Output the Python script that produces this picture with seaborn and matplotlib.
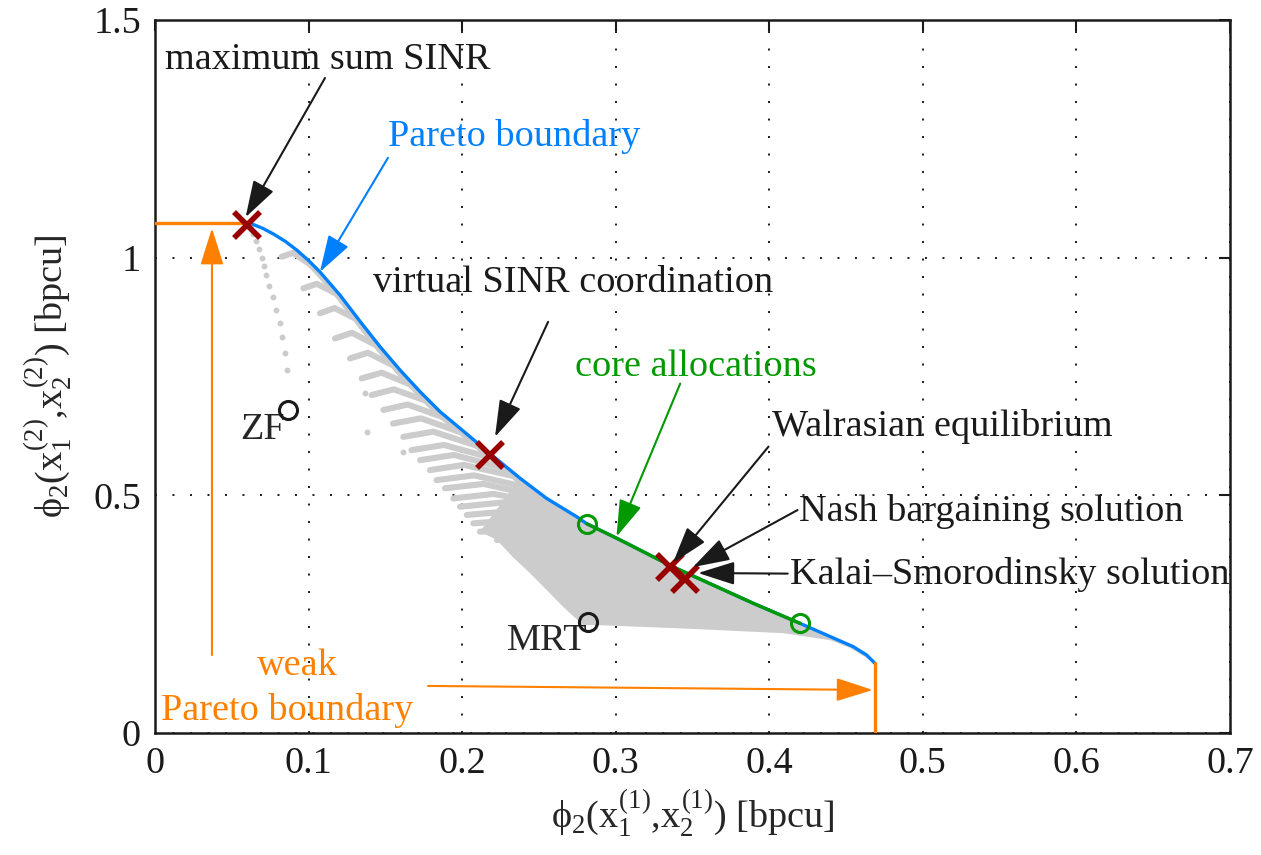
import numpy as np
import pandas as pd
import matplotlib
matplotlib.use('Agg')
import matplotlib.pyplot as plt
import seaborn as sns

# Pareto boundary
pareto_x = [0.0619, 0.070, 0.077, 0.085, 0.0923, 0.100, 0.1074, 0.1205, 0.1335, 0.1465,
            0.1595, 0.1726, 0.1856, 0.1986, 0.2192, 0.2377, 0.2551, 0.2746, 0.281, 0.303,
            0.337, 0.3896, 0.420, 0.4374, 0.4547, 0.4634, 0.4688]
pareto_y = [1.0724, 1.062, 1.050, 1.034, 1.016, 0.994, 0.970, 0.921, 0.866, 0.8128,
            0.7637, 0.718, 0.676, 0.641, 0.585, 0.536, 0.4934, 0.455, 0.4406, 0.406,
            0.350, 0.2728, 0.2307, 0.206, 0.1816, 0.164, 0.1466]
core_lo, core_hi = 0.281, 0.420

# achievable points: fan of curves (left end, height of its hump, where it meets the boundary)
fan_left_x = [0.0825, 0.0966, 0.1074, 0.1172, 0.1270, 0.1346, 0.1411, 0.1487, 0.155, 0.1617,
              0.167, 0.1726, 0.179, 0.1834, 0.1888, 0.1943, 0.1986, 0.203, 0.2073, 0.2116, 0.2227]
fan_left_y = [1.002, 0.9355, 0.883, 0.830, 0.788, 0.746, 0.711, 0.6796, 0.651, 0.623,
              0.595, 0.574, 0.553, 0.532, 0.5148, 0.4934, 0.476, 0.4587, 0.441, 0.4235, 0.406]
fan_top_y = [1.010, 0.945, 0.894, 0.842, 0.800, 0.758, 0.723, 0.691, 0.662, 0.634,
             0.606, 0.585, 0.564, 0.542, 0.524, 0.503, 0.485, 0.467, 0.449, 0.431, 0.413]
fan_join_x = [0.101, 0.1185, 0.1312, 0.1449, 0.156, 0.1672, 0.1772, 0.1886, 0.2004, 0.2107,
              0.2199, 0.2279, 0.2343, 0.2442, 0.2516, 0.2596, 0.268, 0.2773, 0.2877, 0.2992, 0.3103]

# lower edge of the dense part
dense_low_x = [0.2116, 0.2227, 0.233, 0.244, 0.255, 0.266, 0.275, 0.2787, 0.288, 0.350,
               0.409, 0.440, 0.4526, 0.4655, 0.4688]
dense_low_y = [0.4235, 0.406, 0.370, 0.337, 0.301, 0.265, 0.238, 0.227, 0.227, 0.219,
               0.210, 0.195, 0.179, 0.154, 0.1466]

# sparse dotted curve below the maximum sum SINR point + loose dots
zf_dots_x = [0.062, 0.064, 0.066, 0.068, 0.0695, 0.071, 0.0725, 0.0745, 0.077, 0.079, 0.0814,
             0.0825, 0.0846, 0.0860, 0.1367, 0.138, 0.1615]
zf_dots_y = [1.065, 1.050, 1.035, 1.018, 1.000, 0.982, 0.963, 0.940, 0.917, 0.890, 0.862,
             0.834, 0.799, 0.763, 0.715, 0.633, 0.591]

cross_x = [0.060, 0.2181, 0.3353, 0.3451]
cross_y = [1.068, 0.585, 0.350, 0.325]
core_pts_x = [0.281, 0.420]
core_pts_y = [0.4406, 0.2307]
ref_x = [0.0868, 0.2821]
ref_y = [0.6796, 0.234]

blue = '#0080ff'
green = '#009900'
orange = '#ff8000'
dred = '#990000'
gray = '#cccccc'

sns.set_theme(style='white')
plt.rcParams['font.family'] = ['Liberation Serif', 'DejaVu Serif']
plt.rcParams['mathtext.fontset'] = 'custom'
plt.rcParams['mathtext.rm'] = 'Liberation Serif'
plt.rcParams['mathtext.it'] = 'Liberation Serif'
fs = 27.5

fig = plt.figure(figsize=(12.61, 8.55), dpi=100)
ax = fig.add_axes([0.1229, 0.1427, 0.8525, 0.8339])

px = np.array(pareto_x)
py = np.array(pareto_y)

# gray achievable region
sel = px >= 0.2377
poly_x = list(dense_low_x) + list(px[sel][::-1])
poly_y = list(dense_low_y) + list(py[sel][::-1])
ax.fill(poly_x, poly_y, color=gray, lw=0, zorder=1)
for xl, yl, yt, xj in zip(fan_left_x, fan_left_y, fan_top_y, fan_join_x):
    yj = np.interp(xj, px, py) - 0.005
    xm = xl + 0.4 * (xj - xl)
    m = (px > xj) & (px <= xj + 0.05)
    cx = [xl, xm, xj] + list(px[m])
    cy = [yl, yt, yj] + list(py[m] - 0.006)
    ax.plot(cx, cy, color=gray, lw=4.4, solid_capstyle='round',
            solid_joinstyle='round', zorder=1)
ax.scatter(zf_dots_x, zf_dots_y, s=18, color=gray, lw=0, zorder=1)

# boundaries
df = pd.DataFrame({'x': px, 'y': py})
sns.lineplot(data=df, x='x', y='y', sort=False, color=blue, lw=2.4, ax=ax, zorder=3)
core = df[(df.x >= core_lo) & (df.x <= core_hi)]
sns.lineplot(data=core, x='x', y='y', sort=False, color=green, lw=2.4, ax=ax, zorder=4)
ax.plot([0, pareto_x[0]], [pareto_y[0], pareto_y[0]], color=orange, lw=2.4, zorder=3)
ax.plot([pareto_x[-1], pareto_x[-1]], [pareto_y[-1], 0], color=orange, lw=2.4, zorder=3)

# markers
ax.plot(core_pts_x, core_pts_y, 'o', mfc='none', mec=green, ms=13, mew=2.2, zorder=5)
ax.plot(ref_x, ref_y, 'o', mfc='none', mec='k', ms=13, mew=2.2, zorder=5)
ax.plot(cross_x, cross_y, 'x', color=dred, ms=19, mew=4, zorder=6)

ap = dict(arrowstyle='-|>,head_length=1.9,head_width=0.6', lw=1.5, shrinkA=0, shrinkB=0)

def note(txt, xy, xytext, color='k', ha='left', va='center', tpos=None):
    ax.annotate('', xy=xy, xytext=xytext, arrowprops=dict(ap, color=color), zorder=7)
    if txt:
        ax.text(tpos[0], tpos[1], txt, color=color, fontsize=fs, ha=ha, va=va, zorder=8)

note('maximum sum SINR', (0.059, 1.085), (0.1107, 1.378), tpos=(0.0065, 1.416))
note('Pareto boundary', (0.1074, 0.970), (0.1517, 1.21), color=blue, tpos=(0.152, 1.254))
note('virtual SINR coordination', (0.2214, 0.623), (0.256, 0.865), tpos=(0.142, 0.947))
note('core allocations', (0.3005, 0.413), (0.342, 0.735), color=green, tpos=(0.2735, 0.77))
note('Walrasian equilibrium', (0.3373, 0.358), (0.3995, 0.6025), tpos=(0.4018, 0.644))
note('Nash bargaining solution', (0.3503, 0.349), (0.4184, 0.469), tpos=(0.4196, 0.4656))
note('Kalai\u2013Smorodinsky solution', (0.3536, 0.3366), (0.412, 0.3353), tpos=(0.4133, 0.3324))
note(None, (0.0371, 1.062), (0.0371, 0.164), color=orange)
note(None, (0.4675, 0.0905), (0.1778, 0.099), color=orange)

ax.text(0.0847, 0.6375, 'ZF', fontsize=fs, ha='right', va='center')
ax.text(0.2553, 0.1936, 'MRT', fontsize=fs, ha='center', va='center')
ax.text(0.0925, 0.141, 'weak', fontsize=fs, ha='center', va='center', color=orange)
ax.text(0.086, 0.048, 'Pareto boundary', fontsize=fs, ha='center', va='center', color=orange)

ax.set_xlim(0, 0.7)
ax.set_ylim(0, 1.5)
ax.set_xticks(np.arange(0, 0.71, 0.1))
ax.set_xticklabels(['0', '0.1', '0.2', '0.3', '0.4', '0.5', '0.6', '0.7'])
ax.set_yticks([0, 0.5, 1, 1.5])
ax.set_yticklabels(['0', '0.5', '1', '1.5'])
ax.tick_params(direction='in', length=8, width=1.5, top=True, right=True,
               labelsize=fs, pad=10, colors='k')
ax.grid(True, color='k', linestyle=(0, (1, 8)), linewidth=1.4)
for s in ax.spines.values():
    s.set_linewidth(1.8)
    s.set_color('k')
ax.set_xlabel(r'$\phi_2(x_1^{(1)}{,}x_2^{(1)})$ [bpcu]', fontsize=fs, labelpad=4)
ax.set_ylabel(r'$\phi_2(x_1^{(2)}{,}x_2^{(2)})$ [bpcu]', fontsize=fs, labelpad=14)

fig.savefig('out.png', dpi=100)
